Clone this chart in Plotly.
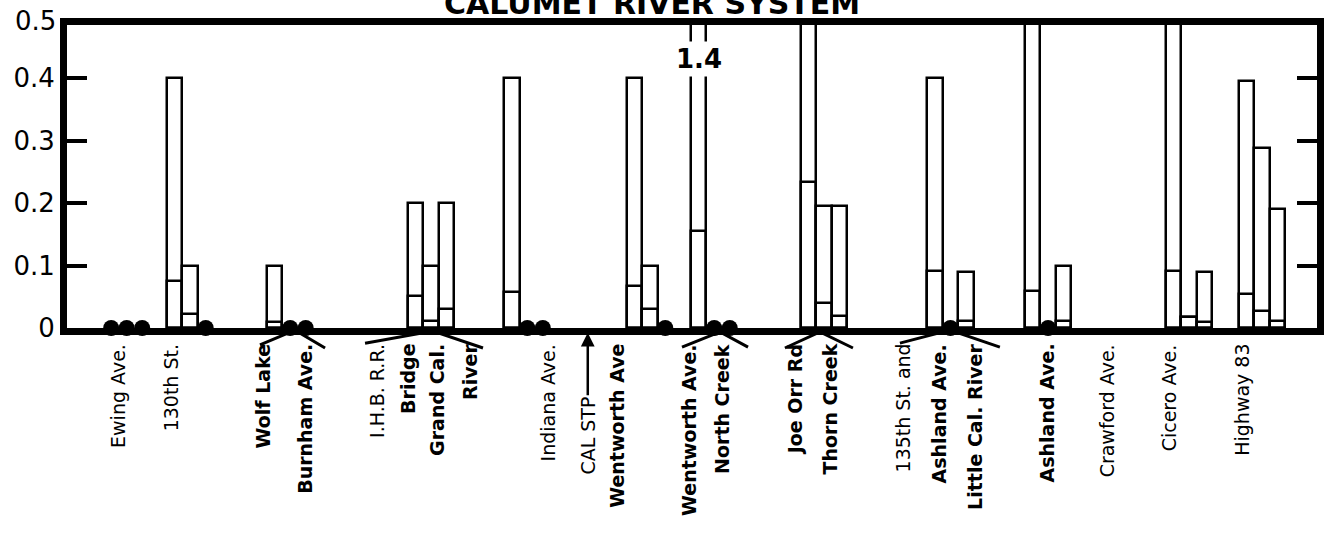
import plotly.graph_objects as go

# ---- data -------------------------------------------------------------
# Sampling stations on the Calumet River system, in plotted order
stations = [
    "Ewing Ave.", "130th St.", "Wolf Lake / Burnham Ave.",
    "I.H.B. R.R. Bridge / Grand Cal. River", "Indiana Ave.", "Wentworth Ave",
    "Wentworth Ave. / North Creek", "Joe Orr Rd / Thorn Creek",
    "135th St. and Ashland Ave. / Little Cal. River", "Ashland Ave.",
    "Crawford Ave.", "Cicero Ave.", "Highway 83",
]

# Three surveys per station: maximum (bar top) and mean (inner line).
# 0 means not detected (drawn as a dot), None means not sampled.
max_1 = [0, 0.40, 0.10, 0.20, 0.40, 0.40, 1.4, 0.60, 0.40, 0.60, None, 0.60, 0.395]
mean_1 = [0, 0.075, 0.01, 0.052, 0.058, 0.068, 0.155, 0.233, 0.092, 0.06, None, 0.092, 0.055]
max_2 = [0, 0.10, 0, 0.10, 0, 0.10, 0, 0.195, 0, 0, None, 0.018, 0.288]
mean_2 = [0, 0.022, 0, 0.012, 0, 0.03, 0, 0.04, 0, 0, None, 0.018, 0.027]
max_3 = [0, 0, 0, 0.20, 0, 0, 0, 0.195, 0.09, 0.10, None, 0.09, 0.19]
mean_3 = [0, 0, 0, 0.03, 0, 0, 0, 0.02, 0.012, 0.012, None, 0.01, 0.012]

y_ticks = [0, 0.1, 0.2, 0.3, 0.4, 0.5]
y_tick_text = ["0", "0.1", "0.2", "0.3", "0.4", "0.5"]

# ---- layout helpers ---------------------------------------------------
# left edge of each station's group of three bar slots (slot units)
group_start = [2.35, 6.45, 12.9, 22.0, 28.2, 36.1, 40.26, 47.35, 55.5, 61.8, 66.5, 70.9, 75.6]
X_MAX = 80.65
Y_MAX = 0.485
FONT = "DejaVu Sans"

# station labels written under the axis: (text, x in slot units, bold)
labels = [
    ("Ewing Ave.", 3.29, False), ("130th St.", 6.77, False),
    ("Wolf Lake", 12.65, True), ("Burnham Ave.", 15.35, True),
    ("I.H.B. R.R.", 20.0, False), ("Bridge", 22.0, True),
    ("Grand Cal.", 23.87, True), ("River", 26.0, True),
    ("Indiana Ave.", 31.03, False), ("Wentworth Ave", 35.48, True),
    ("Wentworth Ave.", 40.13, True), ("North Creek", 42.26, True),
    ("Joe Orr Rd", 47.03, True), ("Thorn Creek", 49.23, True),
    ("135th St. and", 53.94, False), ("Ashland Ave.", 56.26, True),
    ("Little Cal. River", 58.58, True), ("Ashland Ave.", 63.23, True),
    ("Crawford Ave.", 67.16, False), ("Cicero Ave.", 71.16, False),
    ("Highway 83", 75.8, False),
]

# tributary junction leaders: (left end, apex, right end) as (x slot, y paper)
junctions = [
    ((12.45, -0.056), (14.71, -0.007), (16.65, -0.066)),
    ((19.23, -0.050), (23.61, -0.010), (26.84, -0.066)),
    ((39.68, -0.063), (42.13, -0.013), (43.94, -0.063)),
    ((46.32, -0.066), (48.58, -0.013), (50.71, -0.066)),
    ((53.74, -0.050), (56.97, -0.007), (60.19, -0.063)),
]

fig = go.Figure()

surveys = [(max_1, mean_1), (max_2, mean_2), (max_3, mean_3)]
dot_x = []
for k, (mx, mn) in enumerate(surveys):
    bx, by, bm = [], [], []
    for i, v in enumerate(mx):
        if v is None:
            continue
        xc = group_start[i] + k + 0.5
        if v == 0:
            dot_x.append(xc)
        else:
            bx.append(xc)
            by.append(v)
            bm.append(mn[i])
    outline = dict(color="black", width=2.5)
    fig.add_trace(go.Bar(x=bx, y=by, width=1,
                         marker=dict(color="white", line=outline),
                         hoverinfo="skip", showlegend=False))
    fig.add_trace(go.Bar(x=bx, y=bm, width=1,
                         marker=dict(color="rgba(0,0,0,0)", line=outline),
                         hoverinfo="skip", showlegend=False))

fig.add_trace(go.Scatter(x=dot_x, y=[0] * len(dot_x), mode="markers",
                         marker=dict(color="black", size=16),
                         cliponaxis=False, hoverinfo="skip", showlegend=False))

annotations = []
for text, xs, bold in labels:
    annotations.append(dict(
        x=xs, y=-0.046, xref="x", yref="paper", text=text, showarrow=False,
        textangle=-90, xanchor="center", yanchor="top",
        font=dict(family=FONT, size=19, color="black",
                  weight="bold" if bold else "normal"),
    ))

# sewage treatment plant outfall marker
annotations.append(dict(
    x=33.6, y=-0.016, xref="x", yref="paper", text="CAL STP",
    textangle=-90, showarrow=True, arrowhead=2, arrowsize=1.1, arrowwidth=2.5,
    arrowcolor="black", ax=0, ay=103, standoff=0,
    font=dict(family=FONT, size=19, color="black"),
))

# off-scale value written inside the clipped bar
annotations.append(dict(
    x=group_start[6] + 0.5, y=0.43, xref="x", yref="y",
    text=f"{max_1[6]:.1f}", showarrow=False, bgcolor="white", borderpad=2,
    font=dict(family=FONT, size=26, color="black", weight="bold"),
))

# top tick label sits on the frame
annotations.append(dict(
    x=0, y=(328 - 21) / 303, xref="paper", yref="paper", text=y_tick_text[-1],
    showarrow=False, xanchor="right", yanchor="middle", xshift=-9,
    font=dict(family=FONT, size=26, color="black"),
))

annotations.append(dict(
    x=(652 - 67) / 1250, y=(328 - 3) / 303, xref="paper", yref="paper",
    text="CALUMET RIVER SYSTEM", showarrow=False, xanchor="center", yanchor="middle",
    font=dict(family=FONT, size=30, color="black", weight="bold"),
))

shapes = []
for (a, b, c) in junctions:
    shapes.append(dict(
        type="path", xref="x", yref="paper",
        path=f"M {a[0]},{a[1]} L {b[0]},{b[1]} L {c[0]},{c[1]}",
        line=dict(color="black", width=3),
    ))

fig.update_layout(
    width=1336, height=538,
    margin=dict(l=67, r=19, t=25, b=210),
    paper_bgcolor="white", plot_bgcolor="white",
    barmode="overlay", bargap=0,
    annotations=annotations, shapes=shapes,
    font=dict(family=FONT, color="black"),
)
fig.update_xaxes(range=[0, X_MAX], showgrid=False, zeroline=False,
                 showticklabels=False, ticks="", showline=True, mirror=True,
                 linecolor="black", linewidth=7)
fig.update_yaxes(range=[0, Y_MAX], showgrid=False, zeroline=False,
                 tickvals=y_ticks[:-1], ticktext=y_tick_text[:-1],
                 tickfont=dict(family=FONT, size=26, color="black"),
                 ticks="inside", ticklen=20, tickwidth=4, tickcolor="black",
                 showline=True, mirror="ticks", linecolor="black", linewidth=7)

fig.write_html("out.html")
